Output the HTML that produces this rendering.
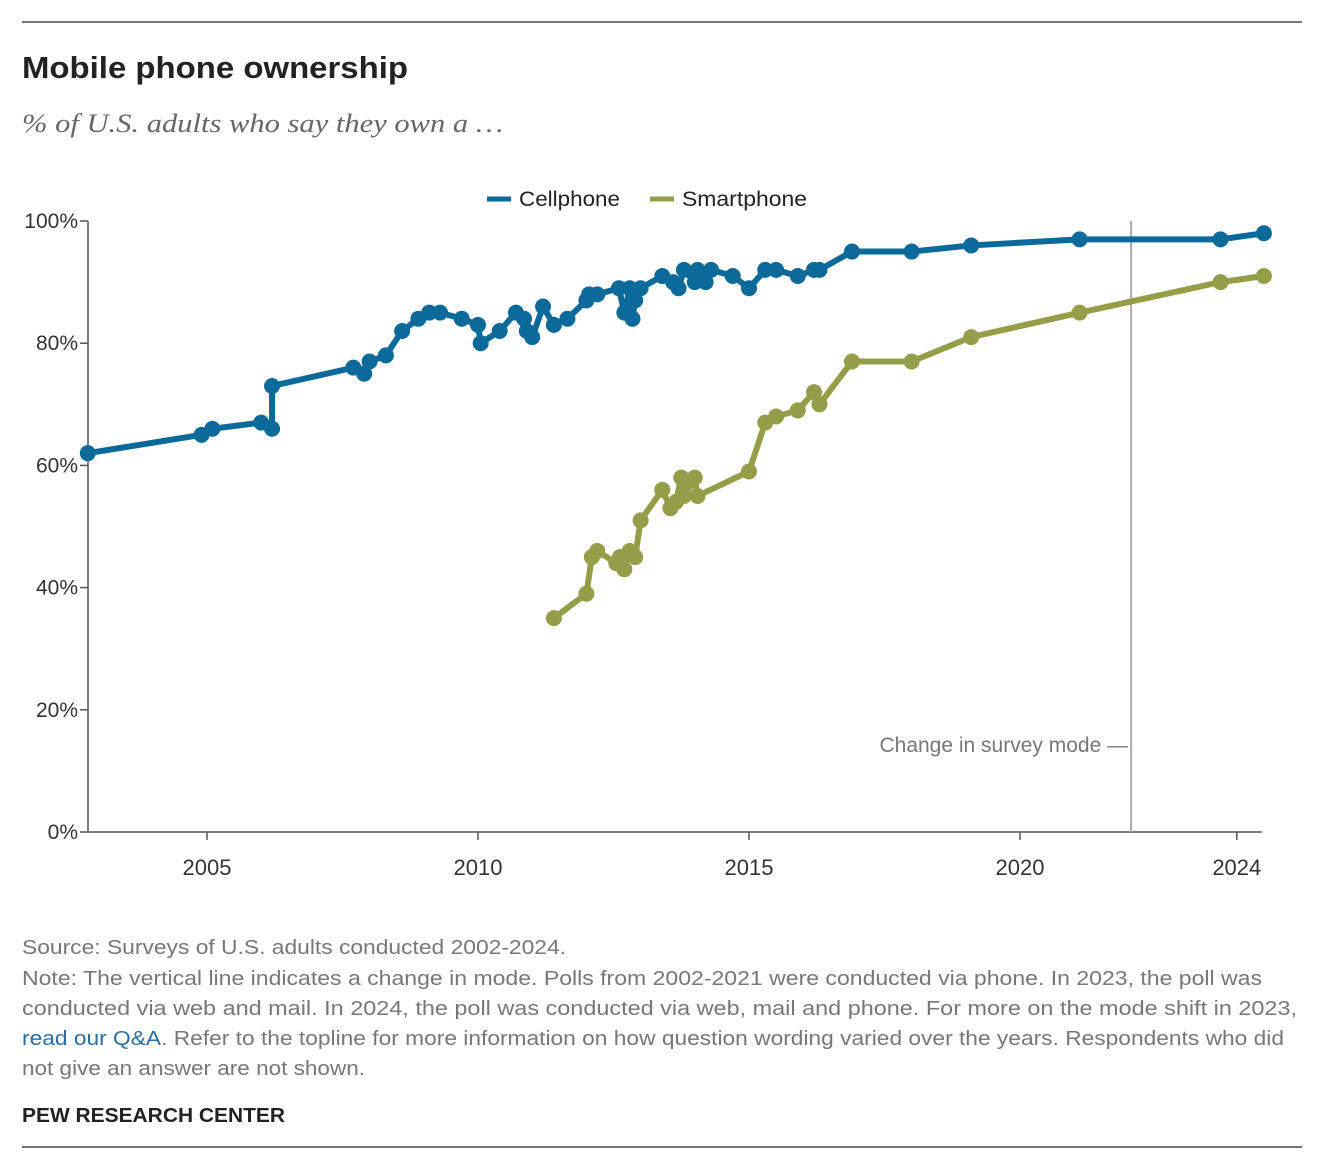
<!DOCTYPE html>
<html><head><meta charset="utf-8"><style>
body{margin:0;background:#fff;width:1330px;height:1150px;overflow:hidden;font-family:"Liberation Sans",sans-serif;}
</style></head><body>
<svg width="1330" height="1150" xmlns="http://www.w3.org/2000/svg">
<line x1="22" y1="22" x2="1302" y2="22" stroke="#777" stroke-width="2"/>
<line x1="22" y1="1147" x2="1302" y2="1147" stroke="#777" stroke-width="2"/>
<text x="22" y="78" font-size="31" font-weight="bold" fill="#222" textLength="386" lengthAdjust="spacingAndGlyphs">Mobile phone ownership</text>
<text x="22" y="132" font-size="26" font-style="italic" fill="#666" font-family="Liberation Serif, serif" textLength="481" lengthAdjust="spacingAndGlyphs">% of U.S. adults who say they own a …</text>
<g>
<g><line x1="487" y1="199" x2="511" y2="199" stroke="#0b6a9a" stroke-width="5"/><text x="519" y="206" font-size="21" fill="#222" textLength="101" lengthAdjust="spacingAndGlyphs">Cellphone</text></g>
<g><line x1="650" y1="199" x2="674" y2="199" stroke="#949d48" stroke-width="5"/><text x="682" y="206" font-size="21" fill="#222" textLength="125" lengthAdjust="spacingAndGlyphs">Smartphone</text></g>
</g>
<g id="axes"></g>
<g id="marks"></g>
<g font-size="20" fill="#777">
<text x="22" y="954" textLength="544" lengthAdjust="spacingAndGlyphs">Source: Surveys of U.S. adults conducted 2002-2024.</text>
<text x="22" y="985" textLength="1240" lengthAdjust="spacingAndGlyphs">Note: The vertical line indicates a change in mode. Polls from 2002-2021 were conducted via phone. In 2023, the poll was</text>
<text x="22" y="1015" textLength="1275" lengthAdjust="spacingAndGlyphs">conducted via web and mail. In 2024, the poll was conducted via web, mail and phone. For more on the mode shift in 2023,</text>
<text x="22" y="1045" textLength="1262" lengthAdjust="spacingAndGlyphs"><tspan fill="#2a6ea8">read our Q&amp;A</tspan>. Refer to the topline for more information on how question wording varied over the years. Respondents who did</text>
<text x="22" y="1075" textLength="343" lengthAdjust="spacingAndGlyphs">not give an answer are not shown.</text>
<text x="22" y="1122" font-weight="bold" fill="#222" textLength="263" lengthAdjust="spacingAndGlyphs">PEW RESEARCH CENTER</text>
</g>
</svg>
<script>
const cellYears=[2002.8,2004.9,2005.1,2006.0,2006.2,2006.2,2007.7,2007.9,2008.0,2008.3,2008.6,2008.9,2009.1,2009.3,2009.7,2010.0,2010.05,2010.4,2010.7,2010.85,2010.9,2011.0,2011.2,2011.4,2011.65,2012.0,2012.05,2012.2,2012.6,2012.7,2012.8,2012.85,2012.9,2013.0,2013.4,2013.6,2013.7,2013.8,2014.0,2014.05,2014.2,2014.3,2014.7,2015.0,2015.3,2015.5,2015.9,2016.2,2016.3,2016.9,2018.0,2019.1,2021.1,2023.7,2024.5];
const cellValues=[62,65,66,67,66,73,76,75,77,78,82,84,85,85,84,83,80,82,85,84,82,81,86,83,84,87,88,88,89,85,89,84,87,89,91,90,89,92,90,92,90,92,91,89,92,92,91,92,92,95,95,96,97,97,98];
const smartYears=[2011.4,2012.0,2012.1,2012.2,2012.55,2012.62,2012.7,2012.8,2012.9,2013.0,2013.4,2013.55,2013.65,2013.75,2013.8,2013.85,2014.0,2014.05,2015.0,2015.3,2015.5,2015.9,2016.2,2016.3,2016.9,2018.0,2019.1,2021.1,2023.7,2024.5];
const smartValues=[35,39,45,46,44,45,43,46,45,51,56,53,54,58,55,57,58,55,59,67,68,69,72,70,77,77,81,85,90,91];
const xTicks=[2005,2010,2015,2020,2024];
const yTicks=[0,20,40,60,80,100];
const modeChangeYear=2022.05;
const NS="http://www.w3.org/2000/svg";
const x=y=>207+(y-2005)*54.2;
const yS=v=>832-v*6.11;
function mk(tag,attrs,parent){const e=document.createElementNS(NS,tag);for(const k in attrs)e.setAttribute(k,attrs[k]);parent.appendChild(e);return e;}
const axes=document.getElementById('axes'),marks=document.getElementById('marks');
yTicks.forEach(t=>{
 const g=mk('g',{},axes);
 
 
 mk('line',{x1:80,x2:88,y1:yS(t),y2:yS(t),stroke:'#555','stroke-width':1.5},g);
 const tx=mk('text',{x:78,y:yS(t)+7,'text-anchor':'end','font-size':21,fill:'#333'},g);tx.textContent=t+'%';
});
xTicks.forEach(t=>{
 const g=mk('g',{},axes);
 
 
 mk('line',{x1:x(t),x2:x(t),y1:832,y2:840,stroke:'#555','stroke-width':1.5},g);
 const tx=mk('text',{x:x(t),y:875,'text-anchor':'middle','font-size':22,fill:'#333'},g);tx.textContent=t;
});
const ya=mk('line',{x1:88,x2:88,y1:221,y2:832,stroke:'#555','stroke-width':1.5},axes);


const xa=mk('line',{x1:88,x2:1262,y1:832,y2:832,stroke:'#555','stroke-width':1.5},axes);


const ml=mk('line',{x1:x(modeChangeYear),x2:x(modeChangeYear),y1:221,y2:832,stroke:'#aaa','stroke-width':2},axes);


const mt=mk('text',{x:x(modeChangeYear)-3,y:752,'text-anchor':'end','font-size':21,fill:'#777'},axes);
mt.textContent='Change in survey mode —';


function series(years,vals,color,name){
 const pts=years.map((yr,i)=>x(yr)+','+yS(vals[i])).join(' ');
 const pl=mk('polyline',{points:pts,fill:'none',stroke:color,'stroke-width':6,'stroke-linejoin':'round'},marks);
 
 
 years.forEach((yr,i)=>{
  const c=mk('circle',{cx:x(yr),cy:yS(vals[i]),r:8,fill:color},marks);
  
  
 });
}
series(cellYears,cellValues,'#0b6a9a','cellphone');
series(smartYears,smartValues,'#949d48','smartphone');
</script>
</body></html>
